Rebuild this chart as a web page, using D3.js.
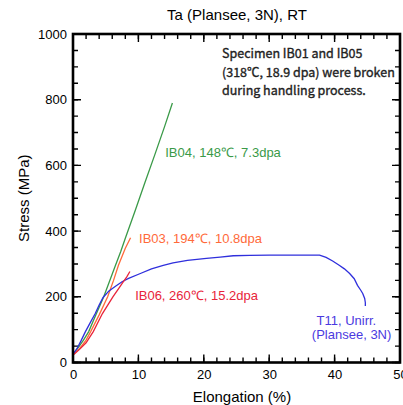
<!DOCTYPE html>
<html>
<head>
<meta charset="utf-8">
<script src="https://cdn.jsdelivr.net/npm/d3@7"></script>
<style>
  body { margin: 0; background: #fff; }
  svg text { font-family: "Liberation Sans", Arial, sans-serif; }
</style>
</head>
<body>
<svg id="chart" width="403" height="405"></svg>
<script>
// elongation (%) / stress (MPa)
const t11X = [0, 0.6, 1.2, 1.9, 2.6, 3.4, 4.0, 4.6, 5.5, 6.5, 7.5, 8.5, 10.3, 12, 13.8, 15.3, 17.5, 20.4, 22.5, 24.5, 27, 30, 33, 36, 37.7, 38.7, 39.7, 40.7, 41.5, 42.3, 43, 43.5, 44, 44.3, 44.6, 44.7, 44.7]
const t11Y = [25, 42, 65, 94, 120, 149, 175, 198, 218, 232, 246, 256, 271, 285, 296, 303, 311, 317, 321, 325, 326, 327, 327, 327, 327, 320, 309, 296, 285, 271, 255, 235, 220, 210, 195, 182, 172]

const ib04X = [0, 0.8, 1.6, 2.4, 3.5, 4.7, 5.6, 6.5, 7.3, 8.0, 9.5, 11, 12.5, 14, 15.2]
const ib04Y = [25, 45, 68, 94, 145, 200, 248, 296, 338, 378, 462, 548, 632, 718, 790]

const ib03X = [0, 1, 2, 2.7, 4, 5.3, 6.2, 6.95, 8, 8.8]
const ib03Y = [25, 42, 68, 94, 145, 200, 250, 296, 348, 380]

const ib06X = [0, 1, 2, 3.1, 4.5, 6.1, 7, 7.6, 8.2, 8.7]
const ib06Y = [22, 40, 60, 94, 149, 200, 226, 243, 260, 277]

const xTicks = [0, 10, 20, 30, 40, 50]
const yTicks = [0, 200, 400, 600, 800, 1000]

const series = [
    {xs: ib04X, ys: ib04Y, color: "#3a9a48"},
    {xs: ib03X, ys: ib03Y, color: "#ff6a3a"},
    {xs: t11X, ys: t11Y, color: "#2f2fdc"},
    {xs: ib06X, ys: ib06Y, color: "#e8243a"}
]

const labels = [
    {text: "IB04, 148\u2103, 7.3dpa", x: 14.1, y: 639, color: "#3a9a48"},
    {text: "IB03, 194\u2103, 10.8dpa", x: 10.1, y: 379, color: "#ff6a3a"},
    {text: "IB06, 260\u2103, 15.2dpa", x: 9.5, y: 205, color: "#e8243a"},
    {text: "T11, Unirr.", x: 41.8, y: 129, color: "#4a3ae0", anchor: "middle"},
    {text: "(Plansee, 3N)", x: 42.6, y: 84, color: "#4a3ae0", anchor: "middle"}
]

const note = ["Specimen IB01 and IB05", "(318\u2103, 18.9 dpa) were broken", "during handling process."]

const mLeft = 73, mRight = 400, mTop = 34, mBottom = 362.5

const svg = d3.select("#chart")

const x = d3.scaleLinear().domain([0, 50]).range([mLeft, mRight])
const y = d3.scaleLinear().domain([0, 1000]).range([mBottom, mTop])

const minorX = d3.range(0, 51, 2), minorY = d3.range(0, 1001, 50)

// inward ticks on all four sides, one path each
function tickPath(xVals, yVals, len) {
    const p = d3.path()
    xVals.forEach(v => {
        p.moveTo(x(v), mBottom); p.lineTo(x(v), mBottom - len)
        p.moveTo(x(v), mTop); p.lineTo(x(v), mTop + len)
    })
    yVals.forEach(v => {
        p.moveTo(mLeft, y(v)); p.lineTo(mLeft + len, y(v))
        p.moveTo(mRight, y(v)); p.lineTo(mRight - len, y(v))
    })
    svg.append("path")
        .attr("d", p.toString())
        .attr("fill", "none")
        .attr("stroke", "#000")
        .attr("stroke-width", 1.4)
}
tickPath(minorX, minorY, 5)
tickPath(xTicks, yTicks, 8)

// tick labels via the axis generators
const xAxis = svg.append("g").attr("transform", `translate(0,${mBottom})`)
    .call(d3.axisBottom(x).tickValues(xTicks).tickSize(0).tickPadding(7).tickFormat(d3.format("d")))
const yAxis = svg.append("g").attr("transform", `translate(${mLeft},0)`)
    .call(d3.axisLeft(y).tickValues(yTicks).tickSize(0).tickPadding(6).tickFormat(d3.format("d")))
;[xAxis, yAxis].forEach(g => {
    g.select(".domain").remove()
    g.selectAll("text").attr("font-size", 13).attr("fill", "#000")
        .style("font-family", "'Liberation Sans', Arial, sans-serif")
})

// curves
const line = d3.line().x(d => x(d[0])).y(d => y(d[1]))
series.forEach(s => {
    svg.append("path")
        .datum(s.xs.map((v, i) => [v, s.ys[i]]))
        .attr("d", line)
        .attr("fill", "none")
        .attr("stroke", s.color)
        .attr("stroke-width", 1.3)
})

// frame
svg.append("rect")
    .attr("x", mLeft).attr("y", mTop)
    .attr("width", mRight - mLeft).attr("height", mBottom - mTop)
    .attr("fill", "none").attr("stroke", "#000").attr("stroke-width", 2.6)

labels.forEach(l => {
    svg.append("text")
        .attr("x", x(l.x)).attr("y", y(l.y))
        .attr("dy", "0.35em")
        .attr("text-anchor", l.anchor || "start")
        .attr("font-size", 13)
        .attr("fill", l.color)
        .text(l.text)
})

svg.selectAll(".note")
    .data(note)
    .enter().append("text")
    .attr("class", "note")
    .attr("x", 222)
    .attr("y", (d, i) => 54 + i * 18.5)
    .attr("dy", "0.35em")
    .attr("font-size", 12.5)
    .attr("fill", "#222")
    .attr("stroke", "#222")
    .attr("stroke-width", 0.35)
    .style("font-family", "'Noto Sans CJK JP', 'Liberation Sans', sans-serif")
    .text(d => d)

svg.append("text")
    .attr("x", 237).attr("y", 15).attr("dy", "0.35em")
    .attr("text-anchor", "middle").attr("font-size", 15)
    .text("Ta (Plansee, 3N), RT")

svg.append("text")
    .attr("x", 242).attr("y", 397).attr("dy", "0.35em")
    .attr("text-anchor", "middle").attr("font-size", 15)
    .text("Elongation (%)")

svg.append("text")
    .attr("transform", `translate(24,${(mTop + mBottom) / 2}) rotate(-90)`)
    .attr("dy", "0.35em")
    .attr("text-anchor", "middle").attr("font-size", 15)
    .text("Stress (MPa)")
</script>
</body>
</html>
